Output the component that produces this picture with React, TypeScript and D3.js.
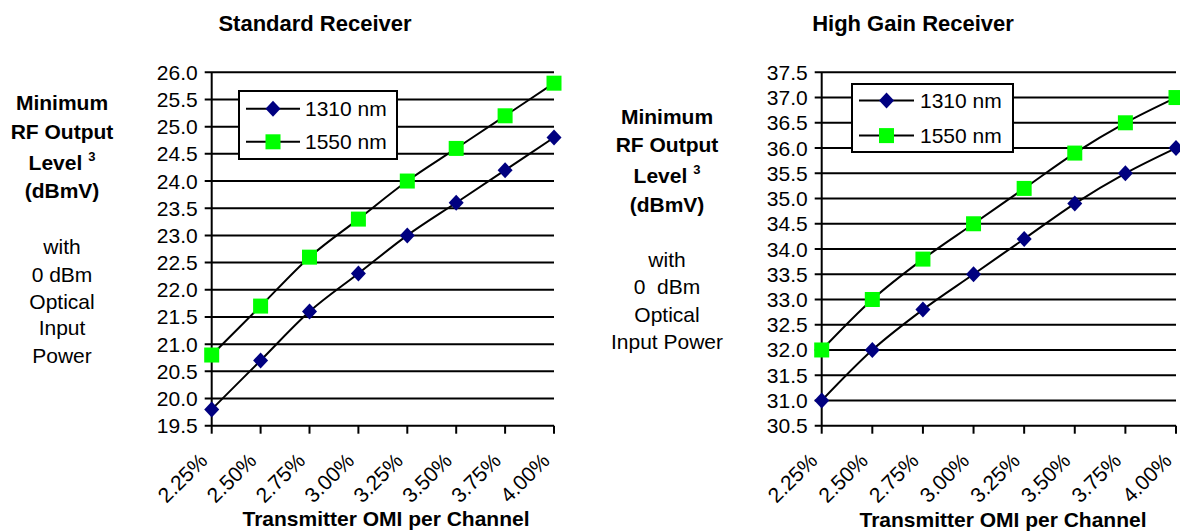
import React from "react";
import * as d3 from "d3";

const categories = ["2.25%", "2.50%", "2.75%", "3.00%", "3.25%", "3.50%", "3.75%", "4.00%"];
const standard1310 = [19.8, 20.7, 21.6, 22.3, 23.0, 23.6, 24.2, 24.8];
const standard1550 = [20.8, 21.7, 22.6, 23.3, 24.0, 24.6, 25.2, 25.8];
const highGain1310 = [31.0, 32.0, 32.8, 33.5, 34.2, 34.9, 35.5, 36.0];
const highGain1550 = [32.0, 33.0, 33.8, 34.5, 35.2, 35.9, 36.5, 37.0];
const standardTicks = [19.5, 20.0, 20.5, 21.0, 21.5, 22.0, 22.5, 23.0, 23.5, 24.0, 24.5, 25.0, 25.5, 26.0];
const highGainTicks = [30.5, 31.0, 31.5, 32.0, 32.5, 33.0, 33.5, 34.0, 34.5, 35.0, 35.5, 36.0, 36.5, 37.0, 37.5];
const seriesNames = ["1310 nm", "1550 nm"];

const FONT = "'Liberation Sans', Arial, sans-serif";
const NAVY = "#000080";
const GREEN = "#00FF00";
const FS = 21;

type SideLine = { text: string; bold: boolean; y: number; sup?: string };

type ChartProps = {
  title: string;
  titleX: number;
  s1310: number[];
  s1550: number[];
  ticks: number[];
  x0: number;
  x1: number;
  yTop: number;
  yBottom: number;
  legend: { x: number; y: number; w: number; h: number; row1: number; row2: number; lineX0: number; lineX1: number; textX: number };
  sideX: number;
  side: SideLine[];
  xTitleX: number;
  xTitleY: number;
  labelDx: number;
  labelY: number;
};

function diamond(cx: number, cy: number, rw: number, rh: number) {
  return `M${cx},${cy - rh}L${cx + rw},${cy}L${cx},${cy + rh}L${cx - rw},${cy}Z`;
}

function Chart(p: ChartProps) {
  const x = d3.scalePoint<string>().domain(categories).range([p.x0, p.x1]);
  const y = d3
    .scaleLinear()
    .domain([p.ticks[0], p.ticks[p.ticks.length - 1]])
    .range([p.yBottom, p.yTop]);
  const line = d3
    .line<number>()
    .x((_, i) => x(categories[i]) as number)
    .y((d) => y(d))
    .curve(d3.curveCatmullRom.alpha(0));
  const sq = 7.5;
  return (
    <g>
      <text x={p.titleX} y={31} textAnchor="middle" fontFamily={FONT} fontWeight="bold" fontSize={22}>
        {p.title}
      </text>
      {p.side.map((l, i) => (
        <text
          key={i}
          x={p.sideX}
          y={l.y}
          textAnchor="middle"
          fontFamily={FONT}
          fontWeight={l.bold ? "bold" : "normal"}
          fontSize={FS}
          xmlSpace="preserve"
          style={{ whiteSpace: "pre" }}
        >
          {l.text}
          {l.sup ? (
            <tspan fontSize={13} dy={-9}>
              {l.sup}
            </tspan>
          ) : null}
        </text>
      ))}
      {p.ticks.map((t) => (
        <g key={t}>
          <line x1={p.x0 - 7} x2={p.x1} y1={y(t)} y2={y(t)} stroke="#000" strokeWidth={2} />
          <text x={p.x0 - 14} y={y(t) + 7.5} textAnchor="end" fontFamily={FONT} fontSize={FS}>
            {t.toFixed(1)}
          </text>
        </g>
      ))}
      <line x1={p.x0} x2={p.x0} y1={p.yTop} y2={p.yBottom} stroke="#000" strokeWidth={2} />
      {categories.map((c) => {
        const cx = x(c) as number;
        return (
          <g key={c}>
            <line x1={cx} x2={cx} y1={p.yBottom} y2={p.yBottom + 8} stroke="#000" strokeWidth={2} />
            <text
              transform={`translate(${cx + p.labelDx},${p.labelY}) rotate(-45)`}
              textAnchor="end"
              fontFamily={FONT}
              fontSize={FS}
            >
              {c}
            </text>
          </g>
        );
      })}
      <path d={line(p.s1310) || ""} fill="none" stroke="#000" strokeWidth={2} />
      <path d={line(p.s1550) || ""} fill="none" stroke="#000" strokeWidth={2} />
      {p.s1310.map((v, i) => (
        <path key={"d" + i} d={diamond(x(categories[i]) as number, y(v), 7.5, 8)} fill={NAVY} />
      ))}
      {p.s1550.map((v, i) => (
        <rect
          key={"s" + i}
          x={(x(categories[i]) as number) - sq}
          y={y(v) - sq}
          width={sq * 2}
          height={sq * 2}
          fill={GREEN}
        />
      ))}
      <rect x={p.legend.x} y={p.legend.y} width={p.legend.w} height={p.legend.h} fill="#fff" stroke="#000" strokeWidth={2} />
      <line x1={p.legend.lineX0} x2={p.legend.lineX1} y1={p.legend.row1} y2={p.legend.row1} stroke="#000" strokeWidth={2} />
      <path d={diamond((p.legend.lineX0 + p.legend.lineX1) / 2, p.legend.row1, 7.5, 8)} fill={NAVY} />
      <text x={p.legend.textX} y={p.legend.row1 + 7.5} fontFamily={FONT} fontSize={FS}>
        {seriesNames[0]}
      </text>
      <line x1={p.legend.lineX0} x2={p.legend.lineX1} y1={p.legend.row2} y2={p.legend.row2} stroke="#000" strokeWidth={2} />
      <rect
        x={(p.legend.lineX0 + p.legend.lineX1) / 2 - sq}
        y={p.legend.row2 - sq}
        width={sq * 2}
        height={sq * 2}
        fill={GREEN}
      />
      <text x={p.legend.textX} y={p.legend.row2 + 7.5} fontFamily={FONT} fontSize={FS}>
        {seriesNames[1]}
      </text>
      <text x={p.xTitleX} y={p.xTitleY} textAnchor="middle" fontFamily={FONT} fontWeight="bold" fontSize={FS}>
        Transmitter OMI per Channel
      </text>
    </g>
  );
}

export default function App() {
  return (
    <svg
      width={1180}
      height={531}
      style={{ position: "absolute", left: 0, top: 0, background: "#fff" }}
    >
      <rect width={1180} height={531} fill="#fff" />
      <Chart
        title="Standard Receiver"
        titleX={315}
        s1310={standard1310}
        s1550={standard1550}
        ticks={standardTicks}
        x0={211.7}
        x1={554}
        yTop={72.3}
        yBottom={425.7}
        legend={{ x: 239, y: 91, w: 158, h: 68, row1: 108.7, row2: 141.8, lineX0: 246, lineX1: 300, textX: 305 }}
        sideX={62}
        side={[
          { text: "Minimum", bold: true, y: 110 },
          { text: "RF Output", bold: true, y: 139 },
          { text: "Level ", bold: true, y: 170, sup: "3" },
          { text: "(dBmV)", bold: true, y: 198 },
          { text: "with", bold: false, y: 254 },
          { text: "0 dBm", bold: false, y: 282 },
          { text: "Optical", bold: false, y: 309 },
          { text: "Input", bold: false, y: 335 },
          { text: "Power", bold: false, y: 363 },
        ]}
        xTitleX={386}
        xTitleY={526}
        labelDx={-3}
        labelY={462}
      />
      <Chart
        title="High Gain Receiver"
        titleX={913}
        s1310={highGain1310}
        s1550={highGain1550}
        ticks={highGainTicks}
        x0={821.7}
        x1={1176}
        yTop={72.3}
        yBottom={425.7}
        legend={{ x: 852, y: 84, w: 161, h: 68, row1: 100.6, row2: 135.6, lineX0: 859, lineX1: 914, textX: 920 }}
        sideX={667}
        side={[
          { text: "Minimum", bold: true, y: 124 },
          { text: "RF Output", bold: true, y: 152 },
          { text: "Level ", bold: true, y: 183, sup: "3" },
          { text: "(dBmV)", bold: true, y: 212 },
          { text: "with", bold: false, y: 267 },
          { text: "0  dBm", bold: false, y: 294 },
          { text: "Optical", bold: false, y: 322 },
          { text: "Input Power", bold: false, y: 349 },
        ]}
        xTitleX={1003}
        xTitleY={527}
        labelDx={-3}
        labelY={462}
      />
    </svg>
  );
}
